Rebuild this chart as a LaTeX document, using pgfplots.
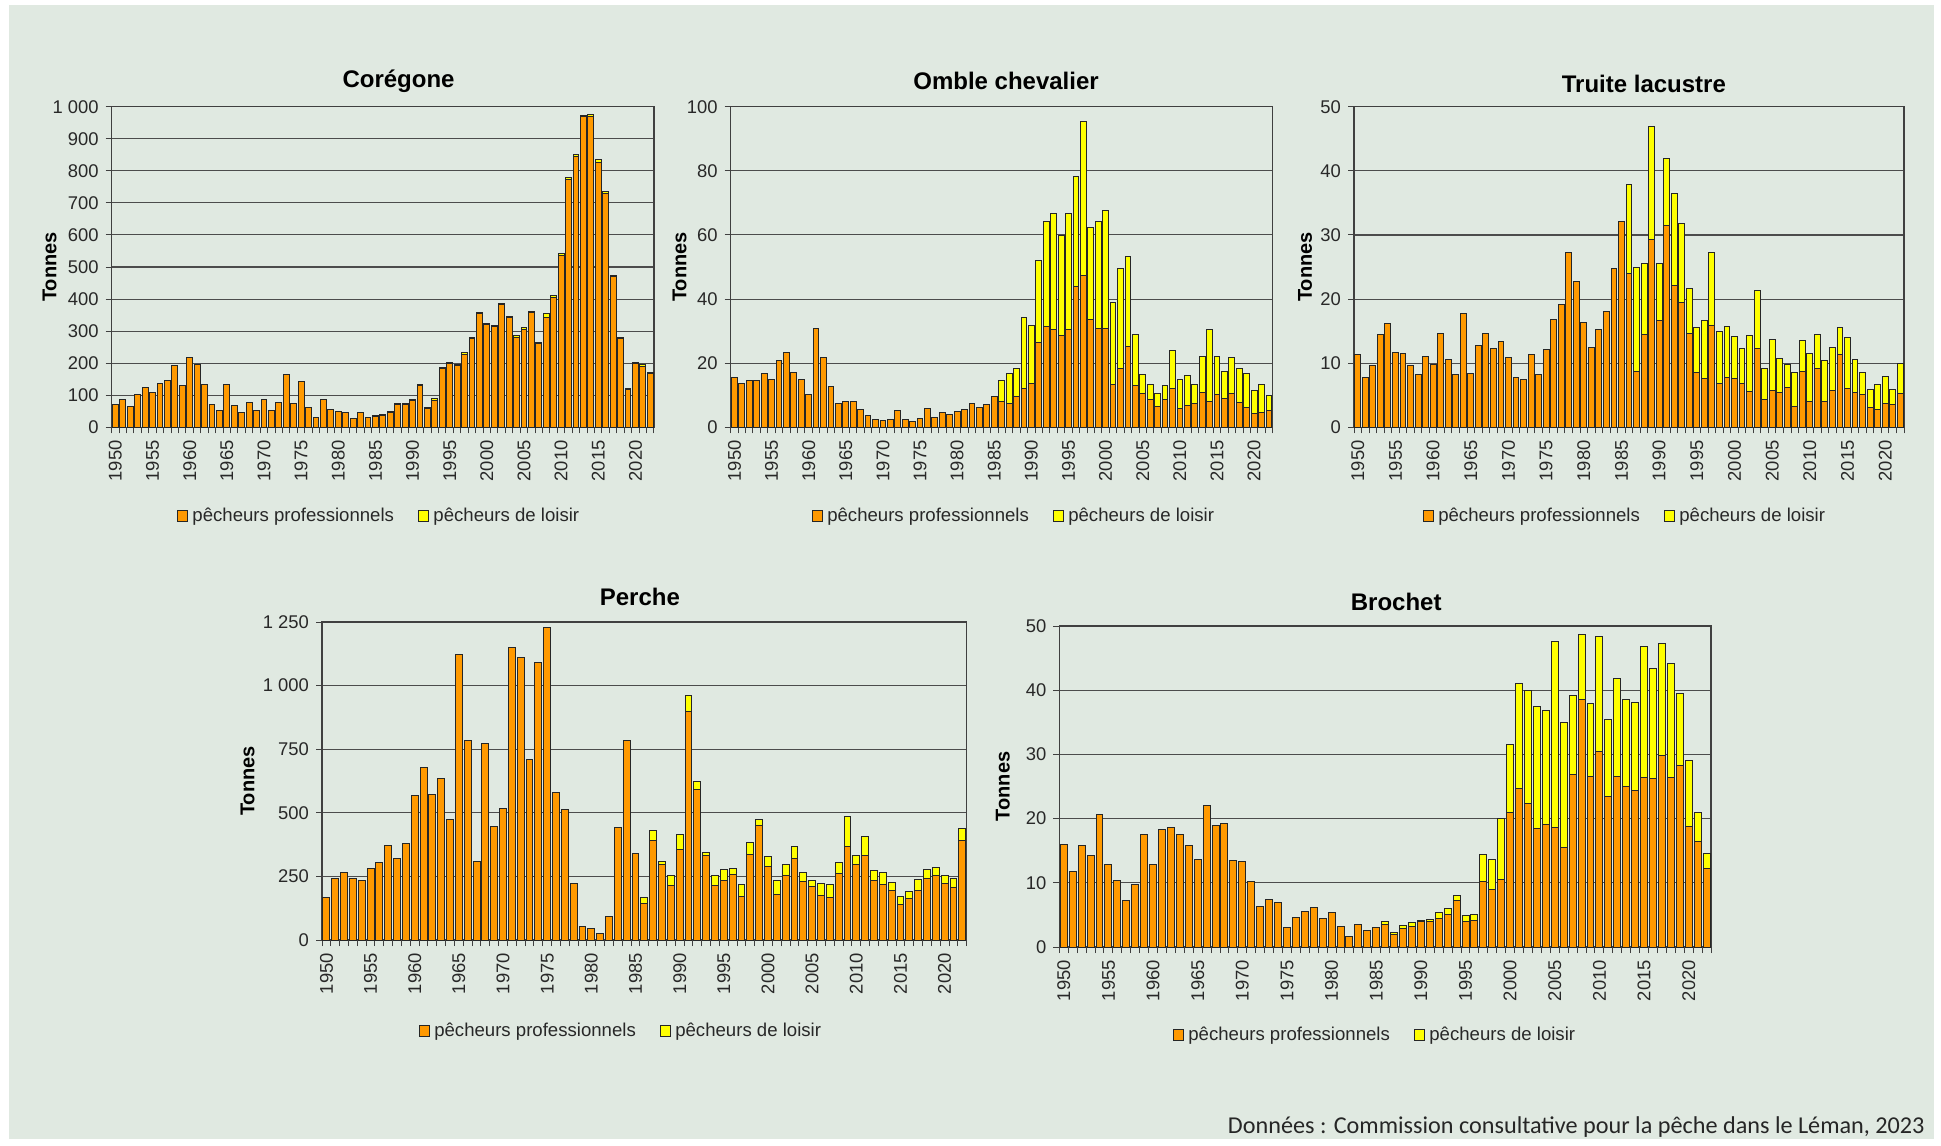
\documentclass[border=0pt]{standalone}
\usepackage{fontspec}
\setmainfont{Liberation Sans}
\newfontfamily\carlito{Carlito}
\usepackage{pgfplots}
\usepackage{pgfplotstable}
\pgfplotsset{compat=1.18}
\definecolor{bgcol}{RGB}{224,233,225}
\definecolor{orng}{RGB}{255,153,0}
\definecolor{yell}{RGB}{255,255,0}
\definecolor{txt}{RGB}{40,40,40}
\newcommand\ticksize{\fontsize{9.2}{10}\selectfont}
\newcommand\legsize{\fontsize{9.3}{10}\selectfont}

\pgfplotstableread[row sep=\\]{
year pro loi\\
1950 70 0\\ 1951 87 0\\ 1952 64 0\\ 1953 103 0\\ 1954 124 0\\ 1955 110 0\\ 1956 138 0\\ 1957 147 0\\ 1958 193 0\\ 1959 130 0\\
1960 218 0\\ 1961 196 0\\ 1962 132 0\\ 1963 70 0\\ 1964 53 0\\ 1965 135 0\\ 1966 68 0\\ 1967 47 0\\ 1968 77 0\\ 1969 51 0\\
1970 87 0\\ 1971 53 0\\ 1972 76 0\\ 1973 166 0\\ 1974 75 0\\ 1975 142 0\\ 1976 62 0\\ 1977 31 0\\ 1978 86 0\\ 1979 57 0\\
1980 50 0\\ 1981 46 0\\ 1982 29 0\\ 1983 47 0\\ 1984 32 0\\ 1985 34 3\\ 1986 37 3\\ 1987 47 3\\ 1988 70 4\\ 1989 70 4\\
1990 83 4\\ 1991 130 4\\ 1992 59 4\\ 1993 85 4\\ 1994 182 4\\ 1995 198 4\\ 1996 192 4\\ 1997 228 4\\ 1998 276 4\\ 1999 355 4\\
2000 321 4\\ 2001 313 4\\ 2002 382 4\\ 2003 341 4\\ 2004 281 4\\ 2005 306 4\\ 2006 357 4\\ 2007 261 4\\ 2008 341 13\\ 2009 404 7\\
2010 536 5\\ 2011 774 5\\ 2012 846 5\\ 2013 968 6\\ 2014 970 5\\ 2015 827 8\\ 2016 729 7\\ 2017 471 4\\ 2018 276 4\\ 2019 117 3\\
2020 200 3\\ 2021 191 4\\ 2022 167 3\\
}\coregone

\pgfplotstableread[row sep=\\]{
year pro loi\\
1950 15.6 0\\ 1951 13.6 0\\ 1952 14.6 0\\ 1953 14.7 0\\ 1954 16.8 0\\ 1955 15.0 0\\ 1956 20.7 0\\ 1957 23.3 0\\ 1958 17.0 0\\ 1959 14.8 0\\
1960 10.1 0\\ 1961 30.9 0\\ 1962 21.8 0\\ 1963 12.8 0\\ 1964 7.4 0\\ 1965 8.2 0\\ 1966 8.0 0\\ 1967 5.6 0\\ 1968 3.8 0\\ 1969 2.5 0\\
1970 2.1 0\\ 1971 2.5 0\\ 1972 5.3 0\\ 1973 2.5 0\\ 1974 1.7 0\\ 1975 2.6 0\\ 1976 5.9 0\\ 1977 3.1 0\\ 1978 4.5 0\\ 1979 4.1 0\\
1980 5.0 0\\ 1981 5.6 0\\ 1982 7.3 0\\ 1983 6.1 0\\ 1984 7.2 0\\ 1985 9.5 0\\ 1986 7.9 6.8\\ 1987 7.3 9.6\\ 1988 9.5 8.9\\ 1989 12.0 22.4\\
1990 13.6 18.1\\ 1991 26.6 25.5\\ 1992 31.5 32.7\\ 1993 30.5 36.2\\ 1994 28.6 31.1\\ 1995 30.4 36.2\\ 1996 44.0 34.3\\ 1997 47.4 48.1\\ 1998 33.5 28.7\\ 1999 30.8 33.4\\
2000 30.9 36.6\\ 2001 13.4 25.5\\ 2002 18.4 31.2\\ 2003 25.2 28.1\\ 2004 13.1 15.8\\ 2005 10.5 6.0\\ 2006 8.7 4.7\\ 2007 6.4 4.0\\ 2008 8.7 4.4\\ 2009 12.0 12.0\\
2010 5.9 9.0\\ 2011 6.9 9.2\\ 2012 7.5 5.9\\ 2013 10.8 11.3\\ 2014 7.9 22.5\\ 2015 10.3 11.7\\ 2016 9.1 8.3\\ 2017 10.4 11.4\\ 2018 7.6 10.6\\ 2019 6.3 10.4\\
2020 4.2 7.2\\ 2021 4.6 8.8\\ 2022 5.1 4.9\\
}\omble

\pgfplotstableread[row sep=\\]{
year pro loi\\
1950 11.4 0\\ 1951 7.8 0\\ 1952 9.7 0\\ 1953 14.5 0\\ 1954 16.2 0\\ 1955 11.7 0\\ 1956 11.5 0\\ 1957 9.6 0\\ 1958 8.2 0\\ 1959 11.1 0\\
1960 9.8 0\\ 1961 14.6 0\\ 1962 10.6 0\\ 1963 8.2 0\\ 1964 17.8 0\\ 1965 8.4 0\\ 1966 12.8 0\\ 1967 14.6 0\\ 1968 12.3 0\\ 1969 13.4 0\\
1970 10.9 0\\ 1971 7.7 0\\ 1972 7.5 0\\ 1973 11.4 0\\ 1974 8.2 0\\ 1975 12.1 0\\ 1976 16.8 0\\ 1977 19.2 0\\ 1978 27.3 0\\ 1979 22.8 0\\
1980 16.3 0\\ 1981 12.5 0\\ 1982 15.2 0\\ 1983 18.1 0\\ 1984 24.7 0\\ 1985 32.1 0\\ 1986 24.0 13.8\\ 1987 8.7 16.2\\ 1988 14.4 11.2\\ 1989 29.3 17.6\\
1990 16.7 8.8\\ 1991 31.5 10.5\\ 1992 22.1 14.3\\ 1993 19.4 12.4\\ 1994 14.7 6.9\\ 1995 8.6 6.9\\ 1996 7.6 9.1\\ 1997 15.9 11.3\\ 1998 6.9 8.0\\ 1999 7.8 7.9\\
2000 7.6 6.5\\ 2001 6.8 5.5\\ 2002 5.6 8.7\\ 2003 12.3 9.0\\ 2004 4.3 4.8\\ 2005 5.8 7.9\\ 2006 5.5 5.3\\ 2007 6.2 3.6\\ 2008 3.2 5.4\\ 2009 8.7 4.8\\
2010 4.1 7.4\\ 2011 9.1 5.3\\ 2012 4.1 6.3\\ 2013 5.7 6.8\\ 2014 11.4 4.1\\ 2015 6.1 7.9\\ 2016 5.4 5.2\\ 2017 5.1 3.5\\ 2018 3.1 2.8\\ 2019 2.8 3.9\\
2020 3.7 4.3\\ 2021 3.5 2.4\\ 2022 5.3 4.6\\
}\truite

\pgfplotstableread[row sep=\\]{
year pro loi\\
1950 166 0\\ 1951 242 0\\ 1952 265 0\\ 1953 240 0\\ 1954 233 0\\ 1955 283 0\\ 1956 304 0\\ 1957 370 0\\ 1958 321 0\\ 1959 381 0\\
1960 567 0\\ 1961 680 0\\ 1962 573 0\\ 1963 634 0\\ 1964 472 0\\ 1965 1124 0\\ 1966 786 0\\ 1967 307 0\\ 1968 774 0\\ 1969 447 0\\
1970 518 0\\ 1971 1150 0\\ 1972 1111 0\\ 1973 708 0\\ 1974 1091 0\\ 1975 1229 0\\ 1976 580 0\\ 1977 512 0\\ 1978 223 0\\ 1979 52 0\\
1980 47 0\\ 1981 26 0\\ 1982 94 0\\ 1983 443 0\\ 1984 784 0\\ 1985 341 0\\ 1986 142 24\\ 1987 390 41\\ 1988 297 12\\ 1989 216 39\\
1990 354 59\\ 1991 900 60\\ 1992 591 31\\ 1993 334 11\\ 1994 216 37\\ 1995 232 46\\ 1996 259 23\\ 1997 170 50\\ 1998 335 49\\ 1999 452 21\\
2000 288 42\\ 2001 178 54\\ 2002 252 43\\ 2003 320 48\\ 2004 229 36\\ 2005 210 23\\ 2006 176 47\\ 2007 169 50\\ 2008 262 43\\ 2009 366 119\\
2010 297 37\\ 2011 333 73\\ 2012 235 39\\ 2013 220 46\\ 2014 193 34\\ 2015 140 32\\ 2016 164 27\\ 2017 195 43\\ 2018 242 37\\ 2019 252 35\\
2020 224 29\\ 2021 207 35\\ 2022 393 45\\
}\perche

\pgfplotstableread[row sep=\\]{
year pro loi\\
1950 15.9 0\\ 1951 11.7 0\\ 1952 15.8 0\\ 1953 14.3 0\\ 1954 20.7 0\\ 1955 12.9 0\\ 1956 10.4 0\\ 1957 7.2 0\\ 1958 9.8 0\\ 1959 17.6 0\\
1960 12.8 0\\ 1961 18.3 0\\ 1962 18.6 0\\ 1963 17.6 0\\ 1964 15.8 0\\ 1965 13.7 0\\ 1966 22.1 0\\ 1967 19.0 0\\ 1968 19.2 0\\ 1969 13.4 0\\
1970 13.3 0\\ 1971 10.2 0\\ 1972 6.3 0\\ 1973 7.4 0\\ 1974 6.9 0\\ 1975 3.1 0\\ 1976 4.6 0\\ 1977 5.5 0\\ 1978 6.1 0\\ 1979 4.5 0\\
1980 5.4 0\\ 1981 3.2 0\\ 1982 1.7 0\\ 1983 3.5 0\\ 1984 2.6 0\\ 1985 3.1 0\\ 1986 3.5 0.5\\ 1987 1.9 0.3\\ 1988 2.9 0.5\\ 1989 3.2 0.6\\
1990 3.9 0.3\\ 1991 3.9 0.4\\ 1992 4.4 0.9\\ 1993 5.0 1.0\\ 1994 7.3 0.7\\ 1995 4.0 0.9\\ 1996 4.2 0.9\\ 1997 10.2 4.2\\ 1998 9.0 4.7\\ 1999 10.5 9.5\\
2000 21.0 10.6\\ 2001 24.7 16.4\\ 2002 22.3 17.6\\ 2003 18.5 19.0\\ 2004 19.1 17.8\\ 2005 18.6 29.0\\ 2006 15.5 19.5\\ 2007 26.9 12.2\\ 2008 38.5 10.2\\ 2009 26.5 11.4\\
2010 30.4 18.0\\ 2011 23.5 12.0\\ 2012 26.6 15.2\\ 2013 25.0 13.6\\ 2014 24.4 13.7\\ 2015 26.4 20.4\\ 2016 26.2 17.2\\ 2017 29.9 17.3\\ 2018 26.4 17.8\\ 2019 28.2 11.3\\
2020 18.7 10.3\\ 2021 16.4 4.6\\ 2022 12.2 2.3\\
}\brochet

\pgfplotsset{
  boxlegend/.style={legend image code/.code={\draw[##1,line width=0.5pt] (0pt,-2.6pt) rectangle (5.2pt,2.6pt);}},
  panel/.style={
    scale only axis, anchor=south west,
    ybar stacked, bar width=0.78,
    xmin=1949.5, xmax=2022.5, ymin=0,
    xtick={1950,1955,...,2020},
    minor xtick={1949.5,1950.5,...,2022.5},
    major x tick style={draw=none},
    minor x tick style={draw=black!75, line width=0.5pt},
    ytick style={draw=black!75, line width=0.5pt},
    minor tick length=3pt, major tick length=3pt,
    tick align=outside, tick pos=left,
    ymajorgrids, major grid style={black!70, line width=0.55pt},
    axis line style={black!75, line width=0.6pt},
    xticklabel style={rotate=90, anchor=east, font=\ticksize, text=txt, /pgf/number format/1000 sep={}},
    yticklabel style={font=\ticksize, text=txt, /pgf/number format/1000 sep={\ }},
    /pgf/number format/assume math mode=true,
    ylabel={Tonnes},
    every axis title/.style={at={(0.5,1)}, anchor=center, yshift=-1.2pt, font=\fontsize{12}{14}\selectfont\bfseries},
    legend style={draw=none, fill=none, font=\legsize, legend columns=2, anchor=center,
      /tikz/every even column/.append style={column sep=10pt}, text=txt},
    legend cell align=left,
  },
  ylab/.style={ylabel style={font=\fontsize{10}{12}\selectfont\bfseries, anchor=center, at={(axis description cs:#1,0.5)}}},
  pro/.style={fill=orng, draw=black!85, line width=0.5pt, boxlegend},
  loi/.style={fill=yell, draw=black!85, line width=0.5pt, boxlegend},
}

\begin{document}
\begin{tikzpicture}
\fill[white] (0pt,0pt) rectangle (970.5pt,-572.5pt);
\fill[bgcol] (4.5pt,-2.5pt) rectangle (967pt,-569.5pt);

% Coregone
\begin{axis}[panel, at={(55.85pt,-213.65pt)}, width=271.15pt, height=160.3pt,
  ymax=1000, ytick={0,100,...,1000},
  title={Corégone}, title style={at={(0.529,1.0864)}},
  ylab=-0.1143,
  legend style={at={(0.495,-0.2766)}}]
\addplot[pro] table[x=year,y=pro]{\coregone};
\addplot[loi] table[x=year,y=loi]{\coregone};
\legend{pêcheurs professionnels, pêcheurs de loisir}
\end{axis}

% Omble
\begin{axis}[panel, at={(365.35pt,-213.65pt)}, width=271pt, height=160.3pt,
  ymax=100, ytick={0,20,...,100},
  title={Omble chevalier}, title style={at={(0.508,1.0864)}},
  ylab=-0.0941,
  legend style={at={(0.5245,-0.2766)}}]
\addplot[pro] table[x=year,y=pro]{\omble};
\addplot[loi] table[x=year,y=loi]{\omble};
\legend{pêcheurs professionnels, pêcheurs de loisir}
\end{axis}

% Truite
\begin{axis}[panel, at={(677pt,-213.65pt)}, width=275pt, height=160.3pt,
  ymax=50, ytick={0,10,...,50},
  title={Truite lacustre}, title style={at={(0.527,1.078)}},
  ylab=-0.0891,
  legend style={at={(0.4945,-0.2766)}}]
\addplot[pro] table[x=year,y=pro]{\truite};
\addplot[loi] table[x=year,y=loi]{\truite};
\legend{pêcheurs professionnels, pêcheurs de loisir}
\end{axis}

% Perche
\begin{axis}[panel, at={(161pt,-470pt)}, width=322.35pt, height=159pt,
  ymax=1250, ytick={0,250,...,1250},
  title={Perche}, title style={at={(0.493,1.088)}},
  ylab=-0.1154,
  legend style={at={(0.4653,-0.286)}}]
\addplot[pro] table[x=year,y=pro]{\perche};
\addplot[loi] table[x=year,y=loi]{\perche};
\legend{pêcheurs professionnels, pêcheurs de loisir}
\end{axis}

% Brochet
\begin{axis}[panel, at={(529.65pt,-473.5pt)}, width=325.85pt, height=160.5pt,
  ymax=50, ytick={0,10,...,50},
  title={Brochet}, title style={at={(0.517,1.084)}},
  ylab=-0.0868,
  legend style={at={(0.486,-0.274)}}]
\addplot[pro] table[x=year,y=pro]{\brochet};
\addplot[loi] table[x=year,y=loi]{\brochet};
\legend{pêcheurs professionnels, pêcheurs de loisir}
\end{axis}

\node[anchor=east, font=\carlito\fontsize{12.1}{14}\selectfont, text=black!85, inner sep=0pt] at (962.5pt,-563.3pt) {Données : Commission consultative pour la pêche dans le Léman, 2023};
\end{tikzpicture}
\end{document}
